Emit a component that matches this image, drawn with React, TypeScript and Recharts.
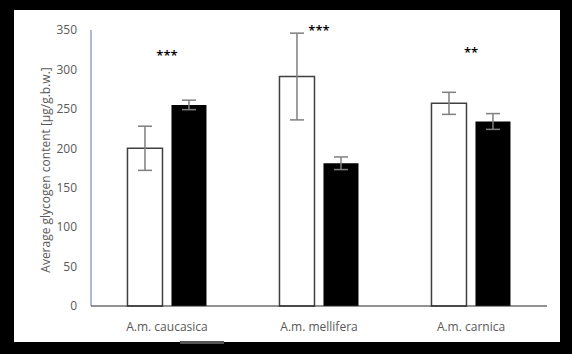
import React from "react";
import {
  Bar,
  BarChart,
  ErrorBar,
  ReferenceDot,
  XAxis,
  YAxis,
} from "recharts";

// categorias e valores
const categories = ["A.m. caucasica", "A.m. mellifera", "A.m. carnica"];
const lightValues = [200, 291, 257];
const lightErrors = [28, 55, 14];
const darkValues = [255, 181, 234];
const darkErrors = [6, 8, 10];
const sigLabels = ["***", "***", "**"];
const sigLevels = [318, 349, 322];
const yTicks = [0, 50, 100, 150, 200, 250, 300, 350];

const data = categories.map((name, i) => ({
  name,
  light: lightValues[i],
  lightErr: lightErrors[i],
  dark: darkValues[i],
  darkErr: darkErrors[i],
}));

const FONT = "'Open Sans', 'Liberation Sans', sans-serif";
const GRAY_TEXT = "#595959";

// título do eixo Y, desenhado na vertical
const YTitle = () => (
  <text
    x={31}
    y={160}
    transform="rotate(-90, 31, 160)"
    textAnchor="middle"
    dominantBaseline="central"
    fill={GRAY_TEXT}
    fontSize={12}
    fontFamily={FONT}
  >
    Average glycogen content [µg/g.b.w.]
  </text>
);

export default function App() {
  return (
    <div
      style={{
        position: "absolute",
        left: 0,
        top: 0,
        width: 572,
        height: 354,
        background: "#000",
        fontFamily: FONT,
      }}
    >
      <div
        style={{
          position: "absolute",
          left: 14,
          top: 10,
          width: 546,
          height: 332,
          background: "#fff",
        }}
      >
        <BarChart
          width={546}
          height={332}
          data={data}
          margin={{ top: 20, right: 13, bottom: 16, left: 27 }}
          barCategoryGap="24%"
          barGap={9}
        >
          <XAxis
            dataKey="name"
            height={20}
            tickLine={false}
            axisLine={{ stroke: "#262626", strokeWidth: 1.2 }}
            tickMargin={10}
            tick={{ fill: GRAY_TEXT, fontSize: 12, fontFamily: FONT }}
          />
          <YAxis
            width={50}
            domain={[0, 350]}
            ticks={yTicks}
            tickLine={false}
            tickSize={0}
            tickMargin={14}
            axisLine={{ stroke: "#5a77a8", strokeWidth: 1 }}
            tick={{ fill: GRAY_TEXT, fontSize: 12, fontFamily: FONT }}
            label={{ content: () => <YTitle /> }}
          />
          <Bar
            dataKey="light"
            fill="#fff"
            stroke="#404040"
            strokeWidth={1.5}
            isAnimationActive={false}
          >
            <ErrorBar
              dataKey="lightErr"
              width={7}
              stroke="#7f7f7f"
              strokeWidth={1.5}
            />
          </Bar>
          <Bar dataKey="dark" fill="#000" isAnimationActive={false}>
            <ErrorBar
              dataKey="darkErr"
              width={7}
              stroke="#7f7f7f"
              strokeWidth={1.5}
            />
          </Bar>
          {categories.map((c, i) => (
            <ReferenceDot
              key={c}
              x={c}
              y={sigLevels[i]}
              r={0}
              ifOverflow="visible"
              label={{
                value: sigLabels[i],
                position: "center",
                fill: "#000",
                fontSize: 13,
                fontWeight: 600,
                fontFamily: FONT,
              }}
            />
          ))}
        </BarChart>
      </div>
      <div
        style={{
          position: "absolute",
          left: 180,
          top: 341,
          width: 44,
          height: 3,
          background: "#555",
        }}
      />
    </div>
  );
}
